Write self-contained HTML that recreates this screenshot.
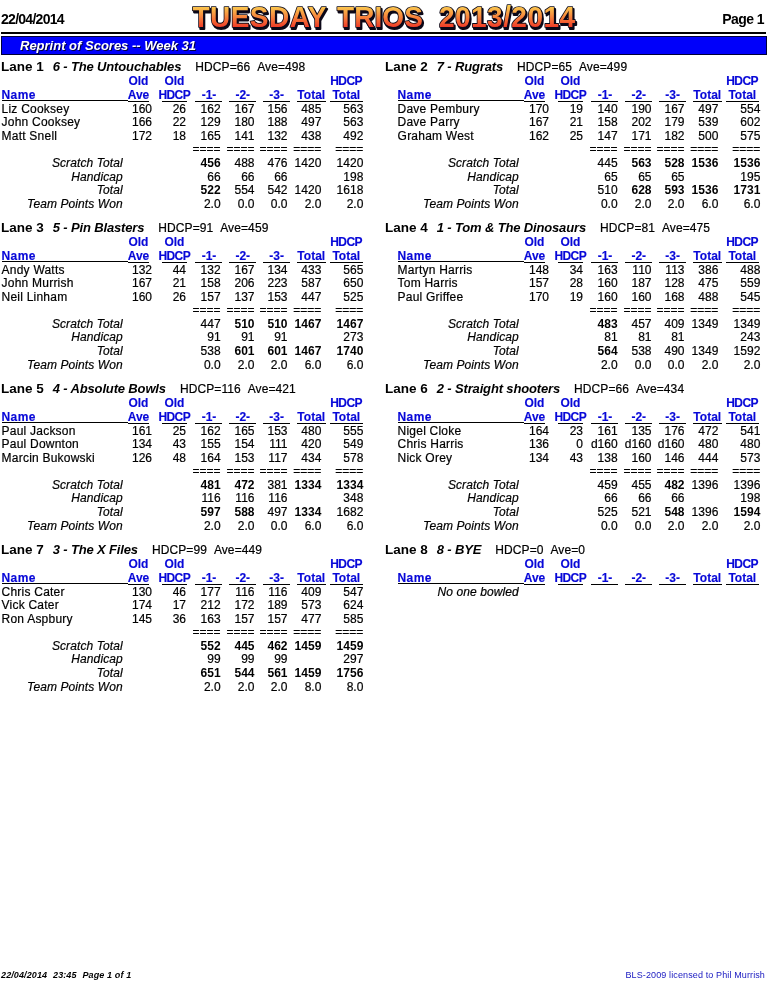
<!DOCTYPE html>
<html><head><meta charset="utf-8"><title>Tuesday Trios</title>
<style>
html,body{margin:0;padding:0;background:#fff}
body{width:768px;height:982px;position:relative;overflow:hidden;will-change:transform;font-family:"Liberation Sans",sans-serif;color:#000}
.t{position:absolute;white-space:nowrap;line-height:14px;font-size:12px}
.t.c{width:120px;text-align:center}
.h{color:#0808d8;font-weight:bold;letter-spacing:0px;-webkit-text-stroke:0.15px currentColor}
.b{font-weight:bold}
.it{font-style:italic}
.eq{}
.n,.nm,.lb,.eq,.lh .hd{-webkit-text-stroke:0.2px currentColor}
.ft{font-size:9px;letter-spacing:0.12px}
.nar{letter-spacing:-0.6px}
.nm{letter-spacing:0.22px}
.lb{font-style:italic;letter-spacing:0.1px}
.lh b{font-size:13.5px;font-weight:bold}
.lh .tm{font-size:13px;font-weight:bold;font-style:italic;margin-left:9px;letter-spacing:-0.15px}
.lh .hd{margin-left:14px;letter-spacing:0.1px}
.ul{position:absolute;height:1px;background:#000}
#title{position:absolute;left:0;top:0}
.bar{position:absolute;left:1px;top:36px;width:766px;height:19px;background:#0000fa;box-sizing:border-box;border:1px solid #000038}
.rule{position:absolute;left:1px;top:32px;width:765px;height:2px;background:#000}
</style></head><body>
<div class="t b" style="left:1px;top:12px;font-size:14px;letter-spacing:-0.72px">22/04/2014</div>
<div class="t b" style="right:4px;top:12px;font-size:14px;letter-spacing:-0.55px">Page 1</div>
<svg id="title" width="768" height="34" viewBox="0 0 768 34">
<defs><linearGradient id="g" gradientUnits="userSpaceOnUse" x1="0" y1="7" x2="0" y2="27">
<stop offset="0" stop-color="#fad050"/><stop offset="0.42" stop-color="#f89440"/><stop offset="1" stop-color="#f03c28"/></linearGradient></defs>
<g font-family="Liberation Sans" font-weight="bold" font-size="28" letter-spacing="0.47" transform="translate(0,27.3) scale(1,1.08) translate(0,-27.3)">
<g transform="translate(1.2,1.2)" fill="#0c0818" stroke="#0c0818" stroke-width="2" stroke-linejoin="round">
<text x="192.5" y="27.3">TUESDAY</text><text x="337" y="27.3" letter-spacing="0.1">TRIOS</text><text x="439" y="27.3">2013/2014</text></g>
<g fill="url(#g)" stroke="#0c0818" stroke-width="1.6" stroke-linejoin="round" paint-order="stroke">
<text x="192.5" y="27.3">TUESDAY</text><text x="337" y="27.3" letter-spacing="0.1">TRIOS</text><text x="439" y="27.3">2013/2014</text></g>
</g></svg>
<div class="rule"></div>
<div class="bar"></div>
<div class="t b it" style="left:20px;top:39px;font-size:13px;color:#fff;text-shadow:1px 1px 0 #000040">Reprint of Scores -- Week 31</div>
<div class="t lh" style="left:1px;top:60px"><b>Lane 1</b><i class="tm">6 - The Untouchables</i><span class="hd">HDCP=66&nbsp;&nbsp;Ave=498</span></div>
<div class="t c h" style="left:78.40px;top:74px">Old</div>
<div class="t c h" style="left:114.40px;top:74px">Old</div>
<div class="t c h" style="left:286.10px;top:74px"><span class="nar">HDCP</span></div>
<div class="t h" style="left:1.50px;top:88px"><span style="letter-spacing:0.45px">Name</span></div>
<div class="t c h" style="left:78.50px;top:88px">Ave</div>
<div class="t c h" style="left:114.25px;top:88px"><span class="nar">HDCP</span></div>
<div class="t c h" style="left:149.00px;top:88px">-1-</div>
<div class="t c h" style="left:182.80px;top:88px">-2-</div>
<div class="t c h" style="left:216.60px;top:88px">-3-</div>
<div class="t c h" style="left:251.25px;top:88px">Total</div>
<div class="t c h" style="left:286.30px;top:88px">Total</div>
<div class="ul" style="left:2.0px;width:125.6px;top:100px"></div>
<div class="ul" style="left:128.0px;width:20.7px;top:101px"></div>
<div class="ul" style="left:162.0px;width:24.8px;top:101px"></div>
<div class="ul" style="left:195.0px;width:27.0px;top:101px"></div>
<div class="ul" style="left:229.0px;width:27.0px;top:101px"></div>
<div class="ul" style="left:263.0px;width:27.0px;top:101px"></div>
<div class="ul" style="left:297.0px;width:29.0px;top:101px"></div>
<div class="ul" style="left:330.0px;width:33.0px;top:101px"></div>
<div class="t nm" style="left:1.60px;top:102px">Liz Cooksey</div>
<div class="t n" style="right:616.00px;top:102px">160</div>
<div class="t n" style="right:582.00px;top:102px">26</div>
<div class="t n" style="right:547.40px;top:102px">162</div>
<div class="t n" style="right:513.50px;top:102px">167</div>
<div class="t n" style="right:480.50px;top:102px">156</div>
<div class="t n" style="right:446.70px;top:102px">485</div>
<div class="t n" style="right:404.70px;top:102px">563</div>
<div class="t nm" style="left:1.60px;top:115px">John Cooksey</div>
<div class="t n" style="right:616.00px;top:115px">166</div>
<div class="t n" style="right:582.00px;top:115px">22</div>
<div class="t n" style="right:547.40px;top:115px">129</div>
<div class="t n" style="right:513.50px;top:115px">180</div>
<div class="t n" style="right:480.50px;top:115px">188</div>
<div class="t n" style="right:446.70px;top:115px">497</div>
<div class="t n" style="right:404.70px;top:115px">563</div>
<div class="t nm" style="left:1.60px;top:129px">Matt Snell</div>
<div class="t n" style="right:616.00px;top:129px">172</div>
<div class="t n" style="right:582.00px;top:129px">18</div>
<div class="t n" style="right:547.40px;top:129px">165</div>
<div class="t n" style="right:513.50px;top:129px">141</div>
<div class="t n" style="right:480.50px;top:129px">132</div>
<div class="t n" style="right:446.70px;top:129px">438</div>
<div class="t n" style="right:404.70px;top:129px">492</div>
<div class="t eq" style="right:547.40px;top:142px">====</div>
<div class="t eq" style="right:513.50px;top:142px">====</div>
<div class="t eq" style="right:480.50px;top:142px">====</div>
<div class="t eq" style="right:446.70px;top:142px">====</div>
<div class="t eq" style="right:404.70px;top:142px">====</div>
<div class="t lb" style="right:645.20px;top:156px">Scratch Total</div>
<div class="t b" style="right:547.40px;top:156px">456</div>
<div class="t n" style="right:513.50px;top:156px">488</div>
<div class="t n" style="right:480.50px;top:156px">476</div>
<div class="t n" style="right:446.70px;top:156px">1420</div>
<div class="t n" style="right:404.70px;top:156px">1420</div>
<div class="t lb" style="right:645.20px;top:170px">Handicap</div>
<div class="t n" style="right:547.40px;top:170px">66</div>
<div class="t n" style="right:513.50px;top:170px">66</div>
<div class="t n" style="right:480.50px;top:170px">66</div>
<div class="t n" style="right:404.70px;top:170px">198</div>
<div class="t lb" style="right:645.20px;top:183px">Total</div>
<div class="t b" style="right:547.40px;top:183px">522</div>
<div class="t n" style="right:513.50px;top:183px">554</div>
<div class="t n" style="right:480.50px;top:183px">542</div>
<div class="t n" style="right:446.70px;top:183px">1420</div>
<div class="t n" style="right:404.70px;top:183px">1618</div>
<div class="t lb" style="right:645.20px;top:197px">Team Points Won</div>
<div class="t n" style="right:547.40px;top:197px">2.0</div>
<div class="t n" style="right:513.50px;top:197px">0.0</div>
<div class="t n" style="right:480.50px;top:197px">0.0</div>
<div class="t n" style="right:446.70px;top:197px">2.0</div>
<div class="t n" style="right:404.70px;top:197px">2.0</div>
<div class="t lh" style="left:385px;top:60px"><b>Lane 2</b><i class="tm">7 - Rugrats</i><span class="hd">HDCP=65&nbsp;&nbsp;Ave=499</span></div>
<div class="t c h" style="left:474.40px;top:74px">Old</div>
<div class="t c h" style="left:510.40px;top:74px">Old</div>
<div class="t c h" style="left:682.10px;top:74px"><span class="nar">HDCP</span></div>
<div class="t h" style="left:397.50px;top:88px"><span style="letter-spacing:0.45px">Name</span></div>
<div class="t c h" style="left:474.50px;top:88px">Ave</div>
<div class="t c h" style="left:510.25px;top:88px"><span class="nar">HDCP</span></div>
<div class="t c h" style="left:545.00px;top:88px">-1-</div>
<div class="t c h" style="left:578.80px;top:88px">-2-</div>
<div class="t c h" style="left:612.60px;top:88px">-3-</div>
<div class="t c h" style="left:647.25px;top:88px">Total</div>
<div class="t c h" style="left:682.30px;top:88px">Total</div>
<div class="ul" style="left:398.0px;width:125.6px;top:100px"></div>
<div class="ul" style="left:524.0px;width:20.7px;top:101px"></div>
<div class="ul" style="left:558.0px;width:24.8px;top:101px"></div>
<div class="ul" style="left:591.0px;width:27.0px;top:101px"></div>
<div class="ul" style="left:625.0px;width:27.0px;top:101px"></div>
<div class="ul" style="left:659.0px;width:27.0px;top:101px"></div>
<div class="ul" style="left:693.0px;width:29.0px;top:101px"></div>
<div class="ul" style="left:726.0px;width:33.0px;top:101px"></div>
<div class="t nm" style="left:397.60px;top:102px">Dave Pembury</div>
<div class="t n" style="right:219.00px;top:102px">170</div>
<div class="t n" style="right:185.00px;top:102px">19</div>
<div class="t n" style="right:150.40px;top:102px">140</div>
<div class="t n" style="right:116.50px;top:102px">190</div>
<div class="t n" style="right:83.50px;top:102px">167</div>
<div class="t n" style="right:49.70px;top:102px">497</div>
<div class="t n" style="right:7.70px;top:102px">554</div>
<div class="t nm" style="left:397.60px;top:115px">Dave Parry</div>
<div class="t n" style="right:219.00px;top:115px">167</div>
<div class="t n" style="right:185.00px;top:115px">21</div>
<div class="t n" style="right:150.40px;top:115px">158</div>
<div class="t n" style="right:116.50px;top:115px">202</div>
<div class="t n" style="right:83.50px;top:115px">179</div>
<div class="t n" style="right:49.70px;top:115px">539</div>
<div class="t n" style="right:7.70px;top:115px">602</div>
<div class="t nm" style="left:397.60px;top:129px">Graham West</div>
<div class="t n" style="right:219.00px;top:129px">162</div>
<div class="t n" style="right:185.00px;top:129px">25</div>
<div class="t n" style="right:150.40px;top:129px">147</div>
<div class="t n" style="right:116.50px;top:129px">171</div>
<div class="t n" style="right:83.50px;top:129px">182</div>
<div class="t n" style="right:49.70px;top:129px">500</div>
<div class="t n" style="right:7.70px;top:129px">575</div>
<div class="t eq" style="right:150.40px;top:142px">====</div>
<div class="t eq" style="right:116.50px;top:142px">====</div>
<div class="t eq" style="right:83.50px;top:142px">====</div>
<div class="t eq" style="right:49.70px;top:142px">====</div>
<div class="t eq" style="right:7.70px;top:142px">====</div>
<div class="t lb" style="right:249.20px;top:156px">Scratch Total</div>
<div class="t n" style="right:150.40px;top:156px">445</div>
<div class="t b" style="right:116.50px;top:156px">563</div>
<div class="t b" style="right:83.50px;top:156px">528</div>
<div class="t b" style="right:49.70px;top:156px">1536</div>
<div class="t b" style="right:7.70px;top:156px">1536</div>
<div class="t lb" style="right:249.20px;top:170px">Handicap</div>
<div class="t n" style="right:150.40px;top:170px">65</div>
<div class="t n" style="right:116.50px;top:170px">65</div>
<div class="t n" style="right:83.50px;top:170px">65</div>
<div class="t n" style="right:7.70px;top:170px">195</div>
<div class="t lb" style="right:249.20px;top:183px">Total</div>
<div class="t n" style="right:150.40px;top:183px">510</div>
<div class="t b" style="right:116.50px;top:183px">628</div>
<div class="t b" style="right:83.50px;top:183px">593</div>
<div class="t b" style="right:49.70px;top:183px">1536</div>
<div class="t b" style="right:7.70px;top:183px">1731</div>
<div class="t lb" style="right:249.20px;top:197px">Team Points Won</div>
<div class="t n" style="right:150.40px;top:197px">0.0</div>
<div class="t n" style="right:116.50px;top:197px">2.0</div>
<div class="t n" style="right:83.50px;top:197px">2.0</div>
<div class="t n" style="right:49.70px;top:197px">6.0</div>
<div class="t n" style="right:7.70px;top:197px">6.0</div>
<div class="t lh" style="left:1px;top:221px"><b>Lane 3</b><i class="tm">5 - Pin Blasters</i><span class="hd">HDCP=91&nbsp;&nbsp;Ave=459</span></div>
<div class="t c h" style="left:78.40px;top:235px">Old</div>
<div class="t c h" style="left:114.40px;top:235px">Old</div>
<div class="t c h" style="left:286.10px;top:235px"><span class="nar">HDCP</span></div>
<div class="t h" style="left:1.50px;top:249px"><span style="letter-spacing:0.45px">Name</span></div>
<div class="t c h" style="left:78.50px;top:249px">Ave</div>
<div class="t c h" style="left:114.25px;top:249px"><span class="nar">HDCP</span></div>
<div class="t c h" style="left:149.00px;top:249px">-1-</div>
<div class="t c h" style="left:182.80px;top:249px">-2-</div>
<div class="t c h" style="left:216.60px;top:249px">-3-</div>
<div class="t c h" style="left:251.25px;top:249px">Total</div>
<div class="t c h" style="left:286.30px;top:249px">Total</div>
<div class="ul" style="left:2.0px;width:125.6px;top:261px"></div>
<div class="ul" style="left:128.0px;width:20.7px;top:262px"></div>
<div class="ul" style="left:162.0px;width:24.8px;top:262px"></div>
<div class="ul" style="left:195.0px;width:27.0px;top:262px"></div>
<div class="ul" style="left:229.0px;width:27.0px;top:262px"></div>
<div class="ul" style="left:263.0px;width:27.0px;top:262px"></div>
<div class="ul" style="left:297.0px;width:29.0px;top:262px"></div>
<div class="ul" style="left:330.0px;width:33.0px;top:262px"></div>
<div class="t nm" style="left:1.60px;top:263px">Andy Watts</div>
<div class="t n" style="right:616.00px;top:263px">132</div>
<div class="t n" style="right:582.00px;top:263px">44</div>
<div class="t n" style="right:547.40px;top:263px">132</div>
<div class="t n" style="right:513.50px;top:263px">167</div>
<div class="t n" style="right:480.50px;top:263px">134</div>
<div class="t n" style="right:446.70px;top:263px">433</div>
<div class="t n" style="right:404.70px;top:263px">565</div>
<div class="t nm" style="left:1.60px;top:276px">John Murrish</div>
<div class="t n" style="right:616.00px;top:276px">167</div>
<div class="t n" style="right:582.00px;top:276px">21</div>
<div class="t n" style="right:547.40px;top:276px">158</div>
<div class="t n" style="right:513.50px;top:276px">206</div>
<div class="t n" style="right:480.50px;top:276px">223</div>
<div class="t n" style="right:446.70px;top:276px">587</div>
<div class="t n" style="right:404.70px;top:276px">650</div>
<div class="t nm" style="left:1.60px;top:290px">Neil Linham</div>
<div class="t n" style="right:616.00px;top:290px">160</div>
<div class="t n" style="right:582.00px;top:290px">26</div>
<div class="t n" style="right:547.40px;top:290px">157</div>
<div class="t n" style="right:513.50px;top:290px">137</div>
<div class="t n" style="right:480.50px;top:290px">153</div>
<div class="t n" style="right:446.70px;top:290px">447</div>
<div class="t n" style="right:404.70px;top:290px">525</div>
<div class="t eq" style="right:547.40px;top:303px">====</div>
<div class="t eq" style="right:513.50px;top:303px">====</div>
<div class="t eq" style="right:480.50px;top:303px">====</div>
<div class="t eq" style="right:446.70px;top:303px">====</div>
<div class="t eq" style="right:404.70px;top:303px">====</div>
<div class="t lb" style="right:645.20px;top:317px">Scratch Total</div>
<div class="t n" style="right:547.40px;top:317px">447</div>
<div class="t b" style="right:513.50px;top:317px">510</div>
<div class="t b" style="right:480.50px;top:317px">510</div>
<div class="t b" style="right:446.70px;top:317px">1467</div>
<div class="t b" style="right:404.70px;top:317px">1467</div>
<div class="t lb" style="right:645.20px;top:330px">Handicap</div>
<div class="t n" style="right:547.40px;top:330px">91</div>
<div class="t n" style="right:513.50px;top:330px">91</div>
<div class="t n" style="right:480.50px;top:330px">91</div>
<div class="t n" style="right:404.70px;top:330px">273</div>
<div class="t lb" style="right:645.20px;top:344px">Total</div>
<div class="t n" style="right:547.40px;top:344px">538</div>
<div class="t b" style="right:513.50px;top:344px">601</div>
<div class="t b" style="right:480.50px;top:344px">601</div>
<div class="t b" style="right:446.70px;top:344px">1467</div>
<div class="t b" style="right:404.70px;top:344px">1740</div>
<div class="t lb" style="right:645.20px;top:358px">Team Points Won</div>
<div class="t n" style="right:547.40px;top:358px">0.0</div>
<div class="t n" style="right:513.50px;top:358px">2.0</div>
<div class="t n" style="right:480.50px;top:358px">2.0</div>
<div class="t n" style="right:446.70px;top:358px">6.0</div>
<div class="t n" style="right:404.70px;top:358px">6.0</div>
<div class="t lh" style="left:385px;top:221px"><b>Lane 4</b><i class="tm">1 - Tom &amp; The Dinosaurs</i><span class="hd">HDCP=81&nbsp;&nbsp;Ave=475</span></div>
<div class="t c h" style="left:474.40px;top:235px">Old</div>
<div class="t c h" style="left:510.40px;top:235px">Old</div>
<div class="t c h" style="left:682.10px;top:235px"><span class="nar">HDCP</span></div>
<div class="t h" style="left:397.50px;top:249px"><span style="letter-spacing:0.45px">Name</span></div>
<div class="t c h" style="left:474.50px;top:249px">Ave</div>
<div class="t c h" style="left:510.25px;top:249px"><span class="nar">HDCP</span></div>
<div class="t c h" style="left:545.00px;top:249px">-1-</div>
<div class="t c h" style="left:578.80px;top:249px">-2-</div>
<div class="t c h" style="left:612.60px;top:249px">-3-</div>
<div class="t c h" style="left:647.25px;top:249px">Total</div>
<div class="t c h" style="left:682.30px;top:249px">Total</div>
<div class="ul" style="left:398.0px;width:125.6px;top:261px"></div>
<div class="ul" style="left:524.0px;width:20.7px;top:262px"></div>
<div class="ul" style="left:558.0px;width:24.8px;top:262px"></div>
<div class="ul" style="left:591.0px;width:27.0px;top:262px"></div>
<div class="ul" style="left:625.0px;width:27.0px;top:262px"></div>
<div class="ul" style="left:659.0px;width:27.0px;top:262px"></div>
<div class="ul" style="left:693.0px;width:29.0px;top:262px"></div>
<div class="ul" style="left:726.0px;width:33.0px;top:262px"></div>
<div class="t nm" style="left:397.60px;top:263px">Martyn Harris</div>
<div class="t n" style="right:219.00px;top:263px">148</div>
<div class="t n" style="right:185.00px;top:263px">34</div>
<div class="t n" style="right:150.40px;top:263px">163</div>
<div class="t n" style="right:116.50px;top:263px">110</div>
<div class="t n" style="right:83.50px;top:263px">113</div>
<div class="t n" style="right:49.70px;top:263px">386</div>
<div class="t n" style="right:7.70px;top:263px">488</div>
<div class="t nm" style="left:397.60px;top:276px">Tom Harris</div>
<div class="t n" style="right:219.00px;top:276px">157</div>
<div class="t n" style="right:185.00px;top:276px">28</div>
<div class="t n" style="right:150.40px;top:276px">160</div>
<div class="t n" style="right:116.50px;top:276px">187</div>
<div class="t n" style="right:83.50px;top:276px">128</div>
<div class="t n" style="right:49.70px;top:276px">475</div>
<div class="t n" style="right:7.70px;top:276px">559</div>
<div class="t nm" style="left:397.60px;top:290px">Paul Griffee</div>
<div class="t n" style="right:219.00px;top:290px">170</div>
<div class="t n" style="right:185.00px;top:290px">19</div>
<div class="t n" style="right:150.40px;top:290px">160</div>
<div class="t n" style="right:116.50px;top:290px">160</div>
<div class="t n" style="right:83.50px;top:290px">168</div>
<div class="t n" style="right:49.70px;top:290px">488</div>
<div class="t n" style="right:7.70px;top:290px">545</div>
<div class="t eq" style="right:150.40px;top:303px">====</div>
<div class="t eq" style="right:116.50px;top:303px">====</div>
<div class="t eq" style="right:83.50px;top:303px">====</div>
<div class="t eq" style="right:49.70px;top:303px">====</div>
<div class="t eq" style="right:7.70px;top:303px">====</div>
<div class="t lb" style="right:249.20px;top:317px">Scratch Total</div>
<div class="t b" style="right:150.40px;top:317px">483</div>
<div class="t n" style="right:116.50px;top:317px">457</div>
<div class="t n" style="right:83.50px;top:317px">409</div>
<div class="t n" style="right:49.70px;top:317px">1349</div>
<div class="t n" style="right:7.70px;top:317px">1349</div>
<div class="t lb" style="right:249.20px;top:330px">Handicap</div>
<div class="t n" style="right:150.40px;top:330px">81</div>
<div class="t n" style="right:116.50px;top:330px">81</div>
<div class="t n" style="right:83.50px;top:330px">81</div>
<div class="t n" style="right:7.70px;top:330px">243</div>
<div class="t lb" style="right:249.20px;top:344px">Total</div>
<div class="t b" style="right:150.40px;top:344px">564</div>
<div class="t n" style="right:116.50px;top:344px">538</div>
<div class="t n" style="right:83.50px;top:344px">490</div>
<div class="t n" style="right:49.70px;top:344px">1349</div>
<div class="t n" style="right:7.70px;top:344px">1592</div>
<div class="t lb" style="right:249.20px;top:358px">Team Points Won</div>
<div class="t n" style="right:150.40px;top:358px">2.0</div>
<div class="t n" style="right:116.50px;top:358px">0.0</div>
<div class="t n" style="right:83.50px;top:358px">0.0</div>
<div class="t n" style="right:49.70px;top:358px">2.0</div>
<div class="t n" style="right:7.70px;top:358px">2.0</div>
<div class="t lh" style="left:1px;top:382px"><b>Lane 5</b><i class="tm">4 - Absolute Bowls</i><span class="hd">HDCP=116&nbsp;&nbsp;Ave=421</span></div>
<div class="t c h" style="left:78.40px;top:396px">Old</div>
<div class="t c h" style="left:114.40px;top:396px">Old</div>
<div class="t c h" style="left:286.10px;top:396px"><span class="nar">HDCP</span></div>
<div class="t h" style="left:1.50px;top:410px"><span style="letter-spacing:0.45px">Name</span></div>
<div class="t c h" style="left:78.50px;top:410px">Ave</div>
<div class="t c h" style="left:114.25px;top:410px"><span class="nar">HDCP</span></div>
<div class="t c h" style="left:149.00px;top:410px">-1-</div>
<div class="t c h" style="left:182.80px;top:410px">-2-</div>
<div class="t c h" style="left:216.60px;top:410px">-3-</div>
<div class="t c h" style="left:251.25px;top:410px">Total</div>
<div class="t c h" style="left:286.30px;top:410px">Total</div>
<div class="ul" style="left:2.0px;width:125.6px;top:422px"></div>
<div class="ul" style="left:128.0px;width:20.7px;top:423px"></div>
<div class="ul" style="left:162.0px;width:24.8px;top:423px"></div>
<div class="ul" style="left:195.0px;width:27.0px;top:423px"></div>
<div class="ul" style="left:229.0px;width:27.0px;top:423px"></div>
<div class="ul" style="left:263.0px;width:27.0px;top:423px"></div>
<div class="ul" style="left:297.0px;width:29.0px;top:423px"></div>
<div class="ul" style="left:330.0px;width:33.0px;top:423px"></div>
<div class="t nm" style="left:1.60px;top:424px">Paul Jackson</div>
<div class="t n" style="right:616.00px;top:424px">161</div>
<div class="t n" style="right:582.00px;top:424px">25</div>
<div class="t n" style="right:547.40px;top:424px">162</div>
<div class="t n" style="right:513.50px;top:424px">165</div>
<div class="t n" style="right:480.50px;top:424px">153</div>
<div class="t n" style="right:446.70px;top:424px">480</div>
<div class="t n" style="right:404.70px;top:424px">555</div>
<div class="t nm" style="left:1.60px;top:437px">Paul Downton</div>
<div class="t n" style="right:616.00px;top:437px">134</div>
<div class="t n" style="right:582.00px;top:437px">43</div>
<div class="t n" style="right:547.40px;top:437px">155</div>
<div class="t n" style="right:513.50px;top:437px">154</div>
<div class="t n" style="right:480.50px;top:437px">111</div>
<div class="t n" style="right:446.70px;top:437px">420</div>
<div class="t n" style="right:404.70px;top:437px">549</div>
<div class="t nm" style="left:1.60px;top:451px">Marcin Bukowski</div>
<div class="t n" style="right:616.00px;top:451px">126</div>
<div class="t n" style="right:582.00px;top:451px">48</div>
<div class="t n" style="right:547.40px;top:451px">164</div>
<div class="t n" style="right:513.50px;top:451px">153</div>
<div class="t n" style="right:480.50px;top:451px">117</div>
<div class="t n" style="right:446.70px;top:451px">434</div>
<div class="t n" style="right:404.70px;top:451px">578</div>
<div class="t eq" style="right:547.40px;top:464px">====</div>
<div class="t eq" style="right:513.50px;top:464px">====</div>
<div class="t eq" style="right:480.50px;top:464px">====</div>
<div class="t eq" style="right:446.70px;top:464px">====</div>
<div class="t eq" style="right:404.70px;top:464px">====</div>
<div class="t lb" style="right:645.20px;top:478px">Scratch Total</div>
<div class="t b" style="right:547.40px;top:478px">481</div>
<div class="t b" style="right:513.50px;top:478px">472</div>
<div class="t n" style="right:480.50px;top:478px">381</div>
<div class="t b" style="right:446.70px;top:478px">1334</div>
<div class="t b" style="right:404.70px;top:478px">1334</div>
<div class="t lb" style="right:645.20px;top:491px">Handicap</div>
<div class="t n" style="right:547.40px;top:491px">116</div>
<div class="t n" style="right:513.50px;top:491px">116</div>
<div class="t n" style="right:480.50px;top:491px">116</div>
<div class="t n" style="right:404.70px;top:491px">348</div>
<div class="t lb" style="right:645.20px;top:505px">Total</div>
<div class="t b" style="right:547.40px;top:505px">597</div>
<div class="t b" style="right:513.50px;top:505px">588</div>
<div class="t n" style="right:480.50px;top:505px">497</div>
<div class="t b" style="right:446.70px;top:505px">1334</div>
<div class="t n" style="right:404.70px;top:505px">1682</div>
<div class="t lb" style="right:645.20px;top:519px">Team Points Won</div>
<div class="t n" style="right:547.40px;top:519px">2.0</div>
<div class="t n" style="right:513.50px;top:519px">2.0</div>
<div class="t n" style="right:480.50px;top:519px">0.0</div>
<div class="t n" style="right:446.70px;top:519px">6.0</div>
<div class="t n" style="right:404.70px;top:519px">6.0</div>
<div class="t lh" style="left:385px;top:382px"><b>Lane 6</b><i class="tm">2 - Straight shooters</i><span class="hd">HDCP=66&nbsp;&nbsp;Ave=434</span></div>
<div class="t c h" style="left:474.40px;top:396px">Old</div>
<div class="t c h" style="left:510.40px;top:396px">Old</div>
<div class="t c h" style="left:682.10px;top:396px"><span class="nar">HDCP</span></div>
<div class="t h" style="left:397.50px;top:410px"><span style="letter-spacing:0.45px">Name</span></div>
<div class="t c h" style="left:474.50px;top:410px">Ave</div>
<div class="t c h" style="left:510.25px;top:410px"><span class="nar">HDCP</span></div>
<div class="t c h" style="left:545.00px;top:410px">-1-</div>
<div class="t c h" style="left:578.80px;top:410px">-2-</div>
<div class="t c h" style="left:612.60px;top:410px">-3-</div>
<div class="t c h" style="left:647.25px;top:410px">Total</div>
<div class="t c h" style="left:682.30px;top:410px">Total</div>
<div class="ul" style="left:398.0px;width:125.6px;top:422px"></div>
<div class="ul" style="left:524.0px;width:20.7px;top:423px"></div>
<div class="ul" style="left:558.0px;width:24.8px;top:423px"></div>
<div class="ul" style="left:591.0px;width:27.0px;top:423px"></div>
<div class="ul" style="left:625.0px;width:27.0px;top:423px"></div>
<div class="ul" style="left:659.0px;width:27.0px;top:423px"></div>
<div class="ul" style="left:693.0px;width:29.0px;top:423px"></div>
<div class="ul" style="left:726.0px;width:33.0px;top:423px"></div>
<div class="t nm" style="left:397.60px;top:424px">Nigel Cloke</div>
<div class="t n" style="right:219.00px;top:424px">164</div>
<div class="t n" style="right:185.00px;top:424px">23</div>
<div class="t n" style="right:150.40px;top:424px">161</div>
<div class="t n" style="right:116.50px;top:424px">135</div>
<div class="t n" style="right:83.50px;top:424px">176</div>
<div class="t n" style="right:49.70px;top:424px">472</div>
<div class="t n" style="right:7.70px;top:424px">541</div>
<div class="t nm" style="left:397.60px;top:437px">Chris Harris</div>
<div class="t n" style="right:219.00px;top:437px">136</div>
<div class="t n" style="right:185.00px;top:437px">0</div>
<div class="t n" style="right:150.40px;top:437px">d160</div>
<div class="t n" style="right:116.50px;top:437px">d160</div>
<div class="t n" style="right:83.50px;top:437px">d160</div>
<div class="t n" style="right:49.70px;top:437px">480</div>
<div class="t n" style="right:7.70px;top:437px">480</div>
<div class="t nm" style="left:397.60px;top:451px">Nick Orey</div>
<div class="t n" style="right:219.00px;top:451px">134</div>
<div class="t n" style="right:185.00px;top:451px">43</div>
<div class="t n" style="right:150.40px;top:451px">138</div>
<div class="t n" style="right:116.50px;top:451px">160</div>
<div class="t n" style="right:83.50px;top:451px">146</div>
<div class="t n" style="right:49.70px;top:451px">444</div>
<div class="t n" style="right:7.70px;top:451px">573</div>
<div class="t eq" style="right:150.40px;top:464px">====</div>
<div class="t eq" style="right:116.50px;top:464px">====</div>
<div class="t eq" style="right:83.50px;top:464px">====</div>
<div class="t eq" style="right:49.70px;top:464px">====</div>
<div class="t eq" style="right:7.70px;top:464px">====</div>
<div class="t lb" style="right:249.20px;top:478px">Scratch Total</div>
<div class="t n" style="right:150.40px;top:478px">459</div>
<div class="t n" style="right:116.50px;top:478px">455</div>
<div class="t b" style="right:83.50px;top:478px">482</div>
<div class="t n" style="right:49.70px;top:478px">1396</div>
<div class="t n" style="right:7.70px;top:478px">1396</div>
<div class="t lb" style="right:249.20px;top:491px">Handicap</div>
<div class="t n" style="right:150.40px;top:491px">66</div>
<div class="t n" style="right:116.50px;top:491px">66</div>
<div class="t n" style="right:83.50px;top:491px">66</div>
<div class="t n" style="right:7.70px;top:491px">198</div>
<div class="t lb" style="right:249.20px;top:505px">Total</div>
<div class="t n" style="right:150.40px;top:505px">525</div>
<div class="t n" style="right:116.50px;top:505px">521</div>
<div class="t b" style="right:83.50px;top:505px">548</div>
<div class="t n" style="right:49.70px;top:505px">1396</div>
<div class="t b" style="right:7.70px;top:505px">1594</div>
<div class="t lb" style="right:249.20px;top:519px">Team Points Won</div>
<div class="t n" style="right:150.40px;top:519px">0.0</div>
<div class="t n" style="right:116.50px;top:519px">0.0</div>
<div class="t n" style="right:83.50px;top:519px">2.0</div>
<div class="t n" style="right:49.70px;top:519px">2.0</div>
<div class="t n" style="right:7.70px;top:519px">2.0</div>
<div class="t lh" style="left:1px;top:543px"><b>Lane 7</b><i class="tm">3 - The X Files</i><span class="hd">HDCP=99&nbsp;&nbsp;Ave=449</span></div>
<div class="t c h" style="left:78.40px;top:557px">Old</div>
<div class="t c h" style="left:114.40px;top:557px">Old</div>
<div class="t c h" style="left:286.10px;top:557px"><span class="nar">HDCP</span></div>
<div class="t h" style="left:1.50px;top:571px"><span style="letter-spacing:0.45px">Name</span></div>
<div class="t c h" style="left:78.50px;top:571px">Ave</div>
<div class="t c h" style="left:114.25px;top:571px"><span class="nar">HDCP</span></div>
<div class="t c h" style="left:149.00px;top:571px">-1-</div>
<div class="t c h" style="left:182.80px;top:571px">-2-</div>
<div class="t c h" style="left:216.60px;top:571px">-3-</div>
<div class="t c h" style="left:251.25px;top:571px">Total</div>
<div class="t c h" style="left:286.30px;top:571px">Total</div>
<div class="ul" style="left:2.0px;width:125.6px;top:583px"></div>
<div class="ul" style="left:128.0px;width:20.7px;top:584px"></div>
<div class="ul" style="left:162.0px;width:24.8px;top:584px"></div>
<div class="ul" style="left:195.0px;width:27.0px;top:584px"></div>
<div class="ul" style="left:229.0px;width:27.0px;top:584px"></div>
<div class="ul" style="left:263.0px;width:27.0px;top:584px"></div>
<div class="ul" style="left:297.0px;width:29.0px;top:584px"></div>
<div class="ul" style="left:330.0px;width:33.0px;top:584px"></div>
<div class="t nm" style="left:1.60px;top:585px">Chris Cater</div>
<div class="t n" style="right:616.00px;top:585px">130</div>
<div class="t n" style="right:582.00px;top:585px">46</div>
<div class="t n" style="right:547.40px;top:585px">177</div>
<div class="t n" style="right:513.50px;top:585px">116</div>
<div class="t n" style="right:480.50px;top:585px">116</div>
<div class="t n" style="right:446.70px;top:585px">409</div>
<div class="t n" style="right:404.70px;top:585px">547</div>
<div class="t nm" style="left:1.60px;top:598px">Vick Cater</div>
<div class="t n" style="right:616.00px;top:598px">174</div>
<div class="t n" style="right:582.00px;top:598px">17</div>
<div class="t n" style="right:547.40px;top:598px">212</div>
<div class="t n" style="right:513.50px;top:598px">172</div>
<div class="t n" style="right:480.50px;top:598px">189</div>
<div class="t n" style="right:446.70px;top:598px">573</div>
<div class="t n" style="right:404.70px;top:598px">624</div>
<div class="t nm" style="left:1.60px;top:612px">Ron Aspbury</div>
<div class="t n" style="right:616.00px;top:612px">145</div>
<div class="t n" style="right:582.00px;top:612px">36</div>
<div class="t n" style="right:547.40px;top:612px">163</div>
<div class="t n" style="right:513.50px;top:612px">157</div>
<div class="t n" style="right:480.50px;top:612px">157</div>
<div class="t n" style="right:446.70px;top:612px">477</div>
<div class="t n" style="right:404.70px;top:612px">585</div>
<div class="t eq" style="right:547.40px;top:625px">====</div>
<div class="t eq" style="right:513.50px;top:625px">====</div>
<div class="t eq" style="right:480.50px;top:625px">====</div>
<div class="t eq" style="right:446.70px;top:625px">====</div>
<div class="t eq" style="right:404.70px;top:625px">====</div>
<div class="t lb" style="right:645.20px;top:639px">Scratch Total</div>
<div class="t b" style="right:547.40px;top:639px">552</div>
<div class="t b" style="right:513.50px;top:639px">445</div>
<div class="t b" style="right:480.50px;top:639px">462</div>
<div class="t b" style="right:446.70px;top:639px">1459</div>
<div class="t b" style="right:404.70px;top:639px">1459</div>
<div class="t lb" style="right:645.20px;top:652px">Handicap</div>
<div class="t n" style="right:547.40px;top:652px">99</div>
<div class="t n" style="right:513.50px;top:652px">99</div>
<div class="t n" style="right:480.50px;top:652px">99</div>
<div class="t n" style="right:404.70px;top:652px">297</div>
<div class="t lb" style="right:645.20px;top:666px">Total</div>
<div class="t b" style="right:547.40px;top:666px">651</div>
<div class="t b" style="right:513.50px;top:666px">544</div>
<div class="t b" style="right:480.50px;top:666px">561</div>
<div class="t b" style="right:446.70px;top:666px">1459</div>
<div class="t b" style="right:404.70px;top:666px">1756</div>
<div class="t lb" style="right:645.20px;top:680px">Team Points Won</div>
<div class="t n" style="right:547.40px;top:680px">2.0</div>
<div class="t n" style="right:513.50px;top:680px">2.0</div>
<div class="t n" style="right:480.50px;top:680px">2.0</div>
<div class="t n" style="right:446.70px;top:680px">8.0</div>
<div class="t n" style="right:404.70px;top:680px">8.0</div>
<div class="t lh" style="left:385px;top:543px"><b>Lane 8</b><i class="tm">8 - BYE</i><span class="hd">HDCP=0&nbsp;&nbsp;Ave=0</span></div>
<div class="t c h" style="left:474.40px;top:557px">Old</div>
<div class="t c h" style="left:510.40px;top:557px">Old</div>
<div class="t c h" style="left:682.10px;top:557px"><span class="nar">HDCP</span></div>
<div class="t h" style="left:397.50px;top:571px"><span style="letter-spacing:0.45px">Name</span></div>
<div class="t c h" style="left:474.50px;top:571px">Ave</div>
<div class="t c h" style="left:510.25px;top:571px"><span class="nar">HDCP</span></div>
<div class="t c h" style="left:545.00px;top:571px">-1-</div>
<div class="t c h" style="left:578.80px;top:571px">-2-</div>
<div class="t c h" style="left:612.60px;top:571px">-3-</div>
<div class="t c h" style="left:647.25px;top:571px">Total</div>
<div class="t c h" style="left:682.30px;top:571px">Total</div>
<div class="ul" style="left:398.0px;width:125.6px;top:583px"></div>
<div class="ul" style="left:524.0px;width:20.7px;top:584px"></div>
<div class="ul" style="left:558.0px;width:24.8px;top:584px"></div>
<div class="ul" style="left:591.0px;width:27.0px;top:584px"></div>
<div class="ul" style="left:625.0px;width:27.0px;top:584px"></div>
<div class="ul" style="left:659.0px;width:27.0px;top:584px"></div>
<div class="ul" style="left:693.0px;width:29.0px;top:584px"></div>
<div class="ul" style="left:726.0px;width:33.0px;top:584px"></div>
<div class="t lb" style="right:249.20px;top:585px">No one bowled</div>
<div class="t b it ft" style="left:1px;top:968px">22/04/2014</div><div class="t b it ft" style="left:53px;top:968px">23:45</div><div class="t b it ft" style="left:82.5px;top:968px">Page 1 of 1</div>
<div class="t" style="right:3px;top:968px;font-size:9px;letter-spacing:0.12px;color:#1818c0">BLS-2009 licensed to Phil Murrish</div>
</body></html>
